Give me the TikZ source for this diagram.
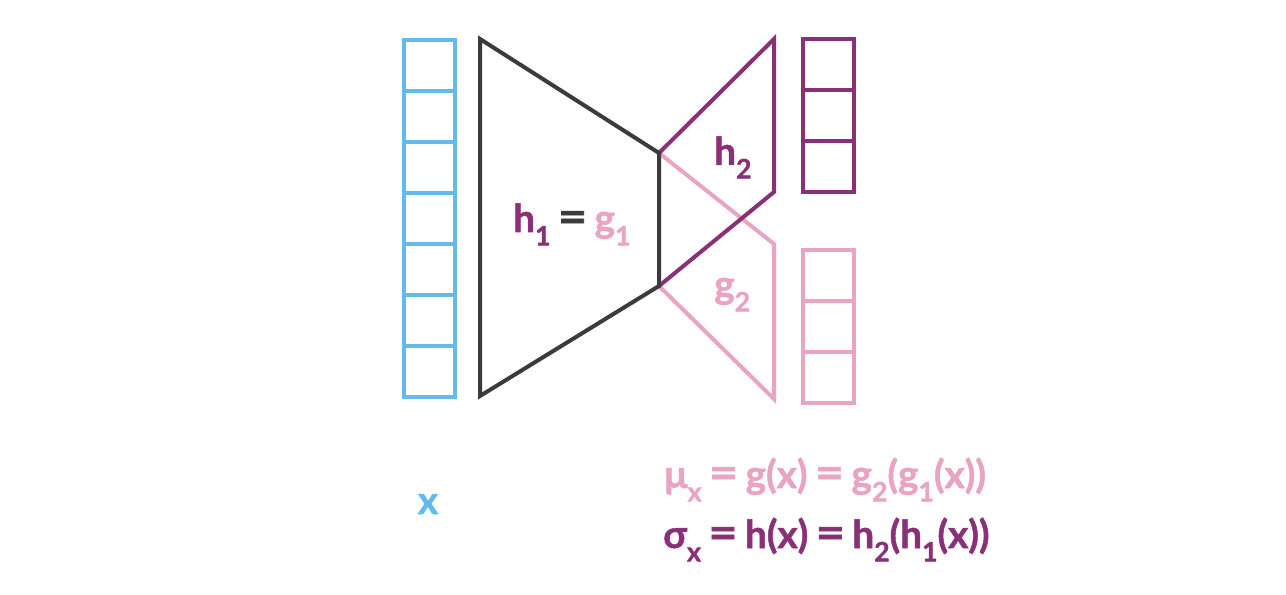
\documentclass[tikz,border=0pt]{standalone}
\usepackage{fontspec}
\setmainfont{Lato}[BoldFeatures={FakeBold=1.3}]
\definecolor{cblue}{HTML}{62BBEA}
\definecolor{cdark}{HTML}{3C3A3C}
\definecolor{cpurple}{HTML}{8A3077}
\definecolor{cpink}{HTML}{E9A3C3}
\newcommand\lowsub[1]{\raisebox{-10pt}{\fontsize{20}{24}\selectfont #1}}
\newcommand\bigeq{\hspace{5.6pt}\scalebox{1.3}[1.15]{=}\hspace{5.6pt}}
\tikzset{
  lbl/.style={font=\fontsize{29}{34}\selectfont\bfseries, inner sep=0pt, anchor=base west},
  cellline/.style={line width=3pt},
  netline/.style={line width=3pt, line join=miter}
}
\begin{document}
\begin{tikzpicture}[x=0.75pt,y=-0.75pt]
\useasboundingbox (0,0) rectangle (1286,595);
% input column
\foreach \i in {0,...,6}{
  \draw[cellline,cblue] (404,{40+51*\i}) rectangle (455,{91+51*\i});
}
% output columns
\foreach \i in {0,1,2}{
  \draw[cellline,cpurple] (803,{39+51*\i}) rectangle (854,{90+51*\i});
  \draw[cellline,cpink] (803,{250+51*\i}) rectangle (854,{301+51*\i});
}
% decoders
\draw[netline,cpink] (659,153) -- (774,244) -- (774,399) -- (659,286);
\draw[netline,cpurple] (659,286) -- (774,192) -- (774,39) -- (659,153);
% encoder
\draw[netline,cdark] (480,39) -- (480,396) -- (659,286) -- (659,153) -- cycle;
% labels
\node[lbl] (h1g1) at (513,232) {\textcolor{cpurple}{h\lowsub{1}}\textcolor{cdark}{\bigeq}\textcolor{cpink}{g\lowsub{1}}};
\node[lbl,cpurple] (h2) at (714,165) {h\lowsub{2}};
\node[lbl,cpink] (g2) at (714,298) {g\lowsub{2}};
\node[lbl,cblue,anchor=base] (xl) at (428,514) {x};
\node[lbl,cpink] (mu) at (664,488) {μ\lowsub{x}\bigeq g(x)\bigeq g\lowsub{2}(g\lowsub{1}(x))};
\node[lbl,cpurple] (sigma) at (663,548) {σ\lowsub{x}\bigeq h(x)\bigeq h\lowsub{2}(h\lowsub{1}(x))};
\end{tikzpicture}
\end{document}
